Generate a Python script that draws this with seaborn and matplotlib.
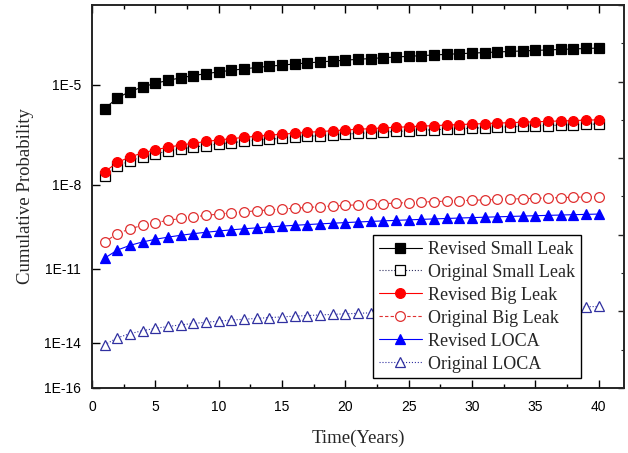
import numpy as np
import matplotlib
matplotlib.use("Agg")
import matplotlib.pyplot as plt
from matplotlib.ticker import MultipleLocator, NullFormatter
import seaborn as sns

sns.set_style("ticks")
plt.rcParams['font.family'] = ['Liberation Sans', 'DejaVu Sans']

years = list(range(1, 41))

rev_small = [2.22e-6, 4.44e-6, 6.66e-6, 8.88e-6, 1.11e-5, 1.33e-5, 1.55e-5, 1.78e-5, 2.00e-5, 2.22e-5,
             2.44e-5, 2.66e-5, 2.89e-5, 3.11e-5, 3.33e-5, 3.55e-5, 3.77e-5, 4.00e-5, 4.22e-5, 4.44e-5,
             4.66e-5, 4.88e-5, 5.11e-5, 5.33e-5, 5.55e-5, 5.77e-5, 5.99e-5, 6.22e-5, 6.44e-5, 6.66e-5,
             6.88e-5, 7.10e-5, 7.33e-5, 7.55e-5, 7.77e-5, 7.99e-5, 8.21e-5, 8.44e-5, 8.66e-5, 8.88e-5]
orig_small = [2.0e-8, 4.0e-8, 6.0e-8, 8.0e-8, 1.0e-7, 1.2e-7, 1.4e-7, 1.6e-7, 1.8e-7, 2.0e-7,
              2.2e-7, 2.4e-7, 2.6e-7, 2.8e-7, 3.0e-7, 3.2e-7, 3.4e-7, 3.6e-7, 3.8e-7, 4.0e-7,
              4.2e-7, 4.4e-7, 4.6e-7, 4.8e-7, 5.0e-7, 5.2e-7, 5.4e-7, 5.6e-7, 5.8e-7, 6.0e-7,
              6.2e-7, 6.4e-7, 6.6e-7, 6.8e-7, 7.0e-7, 7.2e-7, 7.4e-7, 7.6e-7, 7.8e-7, 8.0e-7]
rev_big = [2.65e-8, 5.30e-8, 7.95e-8, 1.06e-7, 1.33e-7, 1.59e-7, 1.86e-7, 2.12e-7, 2.39e-7, 2.65e-7,
           2.92e-7, 3.18e-7, 3.45e-7, 3.71e-7, 3.98e-7, 4.24e-7, 4.51e-7, 4.77e-7, 5.04e-7, 5.30e-7,
           5.57e-7, 5.83e-7, 6.10e-7, 6.36e-7, 6.63e-7, 6.89e-7, 7.16e-7, 7.42e-7, 7.69e-7, 7.95e-7,
           8.22e-7, 8.48e-7, 8.75e-7, 9.01e-7, 9.28e-7, 9.54e-7, 9.81e-7, 1.007e-6, 1.034e-6, 1.06e-6]
orig_big = [1.0e-10, 2.0e-10, 3.0e-10, 4.0e-10, 5.0e-10, 6.0e-10, 7.0e-10, 8.0e-10, 9.0e-10, 1.0e-9,
            1.1e-9, 1.2e-9, 1.3e-9, 1.4e-9, 1.5e-9, 1.6e-9, 1.7e-9, 1.8e-9, 1.9e-9, 2.0e-9,
            2.1e-9, 2.2e-9, 2.3e-9, 2.4e-9, 2.5e-9, 2.6e-9, 2.7e-9, 2.8e-9, 2.9e-9, 3.0e-9,
            3.1e-9, 3.2e-9, 3.3e-9, 3.4e-9, 3.5e-9, 3.6e-9, 3.7e-9, 3.8e-9, 3.9e-9, 4.0e-9]
rev_loca = [2.5e-11, 5.0e-11, 7.5e-11, 1.0e-10, 1.25e-10, 1.5e-10, 1.75e-10, 2.0e-10, 2.25e-10, 2.5e-10,
            2.75e-10, 3.0e-10, 3.25e-10, 3.5e-10, 3.75e-10, 4.0e-10, 4.25e-10, 4.5e-10, 4.75e-10, 5.0e-10,
            5.25e-10, 5.5e-10, 5.75e-10, 6.0e-10, 6.25e-10, 6.5e-10, 6.75e-10, 7.0e-10, 7.25e-10, 7.5e-10,
            7.75e-10, 8.0e-10, 8.25e-10, 8.5e-10, 8.75e-10, 9.0e-10, 9.25e-10, 9.5e-10, 9.75e-10, 1.0e-9]
orig_loca = [8.0e-15, 1.6e-14, 2.4e-14, 3.2e-14, 4.0e-14, 4.8e-14, 5.6e-14, 6.4e-14, 7.2e-14, 8.0e-14,
             8.8e-14, 9.6e-14, 1.04e-13, 1.12e-13, 1.2e-13, 1.28e-13, 1.36e-13, 1.44e-13, 1.52e-13, 1.6e-13,
             1.68e-13, 1.76e-13, 1.84e-13, 1.92e-13, 2.0e-13, 2.08e-13, 2.16e-13, 2.24e-13, 2.32e-13, 2.4e-13,
             2.48e-13, 2.56e-13, 2.64e-13, 2.72e-13, 2.8e-13, 2.88e-13, 2.96e-13, 3.04e-13, 3.12e-13, 3.2e-13]

ytick_vals = [1e-5, 1e-8, 1e-11, 1e-14, 1e-16]
ytick_labels = ['1E-5', '1E-8', '1E-11', '1E-14', '1E-16']


# the y axis in the original is a compressed log scale
def fwd(p):
    p = np.clip(np.asarray(p, dtype=float), 1e-300, 1 - 1e-12)
    return -(-np.log10(p)) ** 0.55


def inv(v):
    v = np.clip(np.asarray(v, dtype=float), None, 0)
    return 10 ** (-((-v) ** (1 / 0.55)))


fig = plt.figure(figsize=(6.28, 4.53), dpi=100)
ax = fig.add_axes([0.1465, 0.1435, 0.8471, 0.8455])
ax.set_yscale('function', functions=(fwd, inv))

series = [
    (rev_small, 'Revised Small Leak', dict(color='black', marker='s', linestyle='-',
                                           markerfacecolor='black', markeredgecolor='black')),
    (orig_small, 'Original Small Leak', dict(color='#303060', marker='s', linestyle=':',
                                             markerfacecolor='white', markeredgecolor='black')),
    (rev_big, 'Revised Big Leak', dict(color='red', marker='o', linestyle='-',
                                       markerfacecolor='red', markeredgecolor='red')),
    (orig_big, 'Original Big Leak', dict(color='#e03030', marker='o', linestyle=(0, (3, 2)),
                                         markerfacecolor='white', markeredgecolor='#e03030')),
    (rev_loca, 'Revised LOCA', dict(color='blue', marker='^', linestyle='-',
                                    markerfacecolor='blue', markeredgecolor='blue')),
    (orig_loca, 'Original LOCA', dict(color='#3030a0', marker='^', linestyle=':',
                                      markerfacecolor='white', markeredgecolor='#3030a0')),
]

for vals, name, kw in series:
    sns.lineplot(x=years, y=vals, ax=ax, label=name, linewidth=0.8,
                 markersize=7, markeredgewidth=0.9, **kw)

ax.set_xlim(0, 42)
ax.set_ylim(1e-16, 8.7e-4)
ax.set_yticks(ytick_vals)
ax.set_yticklabels(ytick_labels)
ax.yaxis.set_minor_locator(plt.NullLocator())
ax.xaxis.set_major_locator(MultipleLocator(5))
ax.xaxis.set_minor_locator(MultipleLocator(2.5))

ax.tick_params(axis='both', which='both', direction='in', top=True, right=False,
               labelsize=10, colors='black', width=1)
ax.tick_params(axis='y', which='major', length=6, pad=8)
ax.tick_params(axis='x', which='major', length=6, pad=9)
ax.tick_params(axis='x', which='minor', length=3)
for s in ax.spines.values():
    s.set_linewidth(1.1)
    s.set_color('black')

# right axis in the original carries its own evenly spaced ticks
ax2 = ax.twinx()
ax2.set_ylim(0, 5)
ax2.yaxis.set_major_locator(MultipleLocator(1))
ax2.yaxis.set_minor_locator(MultipleLocator(0.5))
ax2.yaxis.set_major_formatter(NullFormatter())
ax2.tick_params(axis='y', which='major', direction='in', length=4, width=1)
ax2.tick_params(axis='y', which='minor', direction='in', length=2.5, width=0.8)
for s in ax2.spines.values():
    s.set_linewidth(1.1)

ax.set_xlabel('Time(Years)', family='Liberation Serif', fontsize=13.5, labelpad=11)
ax.set_ylabel('Cumulative Probability', family='Liberation Serif', fontsize=13.5, labelpad=7)

leg = ax.legend(loc='lower right', bbox_to_anchor=(0.919, 0.026),
                prop={'family': 'Liberation Serif', 'size': 13},
                frameon=True, fancybox=False, framealpha=1, edgecolor='black',
                handlelength=2.4, handletextpad=0.35, labelspacing=0.33, borderpad=0.3,
                borderaxespad=0)
leg.get_frame().set_linewidth(1.0)
leg.set_zorder(5)

fig.savefig('out.png', dpi=100)
